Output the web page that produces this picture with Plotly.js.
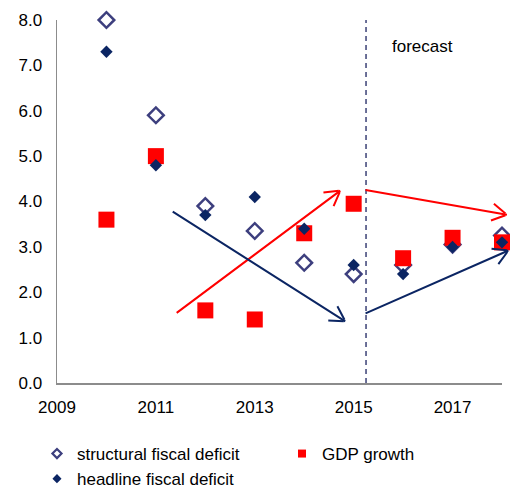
<!DOCTYPE html>
<html>
<head>
<meta charset="utf-8">
<script src="https://cdn.plot.ly/plotly-3.0.1.min.js"></script>
<style>html,body{margin:0;padding:0;background:#fff}#chart{width:510px;height:491px}</style>
</head>
<body>
<div id="chart"></div>
<script>
// ---- data ----
var years = [2010, 2011, 2012, 2013, 2014, 2015, 2016, 2017, 2018];
var structuralDeficit = [8.0, 5.9, 3.9, 3.35, 2.65, 2.4, 2.6, 3.05, 3.25];
var headlineDeficit = [7.3, 4.8, 3.7, 4.1, 3.4, 2.6, 2.4, 3.0, 3.1];
var gdpGrowth = [3.6, 5.0, 1.6, 1.4, 3.3, 3.95, 2.75, 3.2, 3.1];
var seriesNames = ['structural fiscal deficit', 'GDP growth', 'headline fiscal deficit'];
var yTicks = [0, 1, 2, 3, 4, 5, 6, 7, 8];
var xTicks = [2009, 2011, 2013, 2015, 2017];
var forecastStart = 2015.25;
// trend arrows: [tailX, tailY, tipX, tipY]
var redArrows = [[2011.39, 1.52, 2014.73, 4.24], [2015.21, 4.26, 2018.1, 3.71]];
var navyArrows = [[2011.31, 3.80, 2014.83, 1.36], [2015.21, 1.52, 2018.13, 2.92]];

var NAVY = '#0b2563', SLATE = '#3d3f7e', RED = '#ff0000';
var FONT = 'Liberation Sans, Arial, sans-serif';

var W = 510, H = 491, M = {l: 57, r: 8, t: 20, b: 108};
var X_RANGE = [2009, 2018], Y_RANGE = [0, 8];
var pxPerX = (W - M.l - M.r) / (X_RANGE[1] - X_RANGE[0]);
var pxPerY = (H - M.t - M.b) / (Y_RANGE[1] - Y_RANGE[0]);

var traces = [
  {x: years, y: structuralDeficit, type: 'scatter', mode: 'markers', name: seriesNames[0], showlegend: false, cliponaxis: false,
   marker: {symbol: 'diamond-open', size: 12, color: SLATE, line: {width: 2.5, color: SLATE}}},
  {x: years, y: gdpGrowth, type: 'scatter', mode: 'markers', name: seriesNames[1], showlegend: false, cliponaxis: false,
   marker: {symbol: 'square', size: 16, color: RED}},
  {x: years, y: headlineDeficit, type: 'scatter', mode: 'markers', name: seriesNames[2], showlegend: false, cliponaxis: false,
   marker: {symbol: 'diamond', size: 9.5, color: NAVY}},
  // legend entries with small symbols
  {x: [null], y: [null], type: 'scatter', mode: 'markers', name: seriesNames[0], legend: 'legend',
   marker: {symbol: 'diamond-open', size: 7, color: SLATE, line: {width: 2.2, color: SLATE}}},
  {x: [null], y: [null], type: 'scatter', mode: 'markers', name: seriesNames[2], legend: 'legend',
   marker: {symbol: 'diamond', size: 7, color: NAVY}},
  {x: [null], y: [null], type: 'scatter', mode: 'markers', name: seriesNames[1], legend: 'legend2',
   marker: {symbol: 'square', size: 8, color: RED}}
];

var annotations = [];
function addArrows(list, color) {
  list.forEach(function (a) {
    // shaft
    annotations.push({x: a[2], y: a[3], ax: a[0], ay: a[1], xref: 'x', yref: 'y', axref: 'x', ayref: 'y',
      text: '', showarrow: true, arrowhead: 0, arrowwidth: 2, arrowcolor: color, standoff: 0, startstandoff: 0});
    // open V head: two short strokes back from the tip (anchored at the inner end of each stroke)
    var dx = (a[2] - a[0]) * pxPerX, dy = -(a[3] - a[1]) * pxPerY;
    var len = Math.sqrt(dx * dx + dy * dy), ux = -dx / len, uy = -dy / len;
    [-Math.PI / 6, Math.PI / 6].forEach(function (t) {
      var vx = ux * Math.cos(t) - uy * Math.sin(t), vy = ux * Math.sin(t) + uy * Math.cos(t);
      annotations.push({x: a[2] + vx * 17 / pxPerX, y: a[3] - vy * 17 / pxPerY, ax: a[2], ay: a[3],
        xref: 'x', yref: 'y', axref: 'x', ayref: 'y',
        text: '', showarrow: true, arrowhead: 0, arrowwidth: 2, arrowcolor: color, standoff: 0, startstandoff: 0});
    });
  });
}
addArrows(redArrows, RED);
addArrows(navyArrows, NAVY);
annotations.push({x: 2016.4, y: 7.42, xref: 'x', yref: 'y', text: 'forecast', showarrow: false,
  font: {family: FONT, size: 17, color: '#000'}});

var legendFont = {family: FONT, size: 17, color: '#000'};
var layout = {
  width: W, height: H,
  margin: M,
  paper_bgcolor: '#fff', plot_bgcolor: '#fff',
  font: {family: FONT, size: 17, color: '#000'},
  xaxis: {range: X_RANGE, tickvals: xTicks, ticktext: xTicks.map(String), showgrid: false, zeroline: false,
    showline: true, linecolor: '#8c8c8c', linewidth: 1.5, ticks: '', ticklabelstandoff: 8, fixedrange: true},
  yaxis: {range: Y_RANGE, tickvals: yTicks, tickformat: '.1f', showgrid: false, zeroline: false,
    showline: true, linecolor: '#8c8c8c', linewidth: 1.5, ticks: '', ticklabelstandoff: 10, fixedrange: true},
  shapes: [{type: 'line', xref: 'x', yref: 'y', x0: forecastStart, x1: forecastStart, y0: 0, y1: 8.1,
    line: {color: '#3c4276', width: 1.5, dash: '5px,4px'}}],
  annotations: annotations,
  showlegend: true,
  legend: {orientation: 'v', x: -0.045, xanchor: 'left', yref: 'container', y: 0.112, yanchor: 'top',
    font: legendFont, bgcolor: 'rgba(0,0,0,0)', tracegroupgap: 0, itemwidth: 30},
  legend2: {orientation: 'v', x: 0.5056, xanchor: 'left', yref: 'container', y: 0.112, yanchor: 'top',
    font: legendFont, bgcolor: 'rgba(0,0,0,0)', itemwidth: 30}
};

Plotly.newPlot('chart', traces, layout, {displayModeBar: false, staticPlot: true});
</script>
</body>
</html>
